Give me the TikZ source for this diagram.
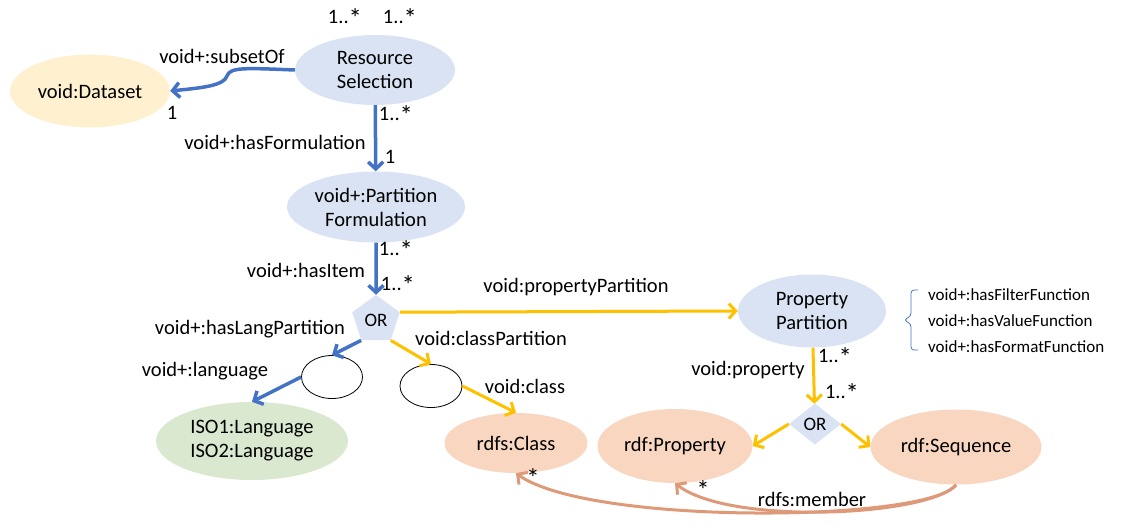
\documentclass[tikz,border=0pt]{standalone}
\usepackage{fontspec}
\setmainfont{Carlito}
\usetikzlibrary{shapes.geometric,arrows.meta}
\definecolor{nodeblue}{HTML}{DAE3F3}
\definecolor{nodeyellow}{HTML}{FFF0CF}
\definecolor{nodegreen}{HTML}{D9E8CE}
\definecolor{nodepeach}{HTML}{F9D6C0}
\definecolor{arrblue}{HTML}{4472C4}
\definecolor{arryellow}{HTML}{FFC000}
\definecolor{arrbrown}{HTML}{DE9A78}
\tikzset{concept/.style={shape=ellipse,inner sep=0pt,align=center,
        font=\fontsize{20.5}{24}\selectfont},
        blank/.style={shape=ellipse,draw,line width=0.8pt,minimum width=61,
        minimum height=43},
        gate/.style={fill=nodeblue,inner sep=0pt,font=\fontsize{19}{21}\selectfont},
        lbl/.style={font=\fontsize{20.5}{24}\selectfont,inner sep=0pt},
        fnlbl/.style={font=\fontsize{17}{20}\selectfont,inner sep=0pt,anchor=west},
        bluearr/.style={draw=arrblue,line width=3.5pt,
        -{Straight Barb[length=7pt,width=15pt]}},
        yelarr/.style={draw=arryellow,line width=3pt,
        -{Straight Barb[length=7pt,width=15pt]}},
        brnarr/.style={draw=arrbrown,line width=3pt,
        -{Straight Barb[length=7pt,width=15pt]}}}
\newcommand{\lbl}[3]{%
  \node[lbl] (#1) at (#2) {#3};}
\newcommand{\mstar}{\raisebox{-0.2em}{\scalebox{1.3}{*}}}

\begin{document}
\begin{tikzpicture}[x=1pt,y=-1pt]
  \useasboundingbox (0,0) rectangle (1121,532);
  %% classes
  \node[concept,fill=nodeyellow,minimum width=160,minimum height=73]
       (dataset) at (90,91) {void:Dataset};
  \node[concept,fill=nodeblue,minimum width=160,minimum height=70]
       (ressel) at (375,70) {Resource\\Selection};
  \node[concept,fill=nodeblue,minimum width=178,minimum height=71]
       (partform) at (376,207) {void+:Partition\\Formulation};
  \node[gate,regular polygon,regular polygon sides=5,minimum size=50]
       (orleft) at (376,320) {OR};
  \node[concept,fill=nodeblue,minimum width=148,minimum height=73]
       (proppart) at (812,311) {Property\\Partition};
  \node[blank] (langnode) at (332,377) {};
  \node[blank,minimum width=62] (classnode) at (431,386) {};
  \node[concept,fill=nodegreen,minimum width=192,minimum height=78]
       (isolang) at (252,441) {ISO1:Language\\ISO2:Language};
  \node[concept,fill=nodepeach,minimum width=143,minimum height=60]
       (rdfsclass) at (516,443) {rdfs:Class};
  \node[concept,fill=nodepeach,minimum width=155,minimum height=74]
       (rdfprop) at (675,446) {rdf:Property};
  \node[concept,fill=nodepeach,minimum width=171,minimum height=75]
       (rdfseq) at (956,447) {rdf:Sequence};
  \node[gate,diamond,minimum width=52,minimum height=41]
       (orright) at (815,424) {OR};
  %% blue links
  \draw[bluearr] (ressel.west) .. controls (245,68) and (230,67) .. (227,76)
       .. controls (224,86) and (200,88) .. (dataset.east);
  \draw[bluearr] (ressel) -- (partform);
  \draw[bluearr] (partform) -- (orleft);
  \draw[bluearr] (orleft.corner 3) -- (langnode.north);
  \draw[bluearr] (langnode.west) -- (isolang.north);
  %% yellow links
  \draw[yelarr] (orleft.corner 5) -- (proppart.west);
  \draw[yelarr] (orleft.corner 4) -- (classnode.north);
  \draw[yelarr] (classnode.east) -- (rdfsclass.north);
  \draw[yelarr] (proppart) -- (orright);
  \draw[yelarr] (orright.west) -- (rdfprop.east);
  \draw[yelarr] (orright.east) -- (rdfseq.west);
  %% rdfs:member
  \draw[brnarr] (rdfseq.south) .. controls (930,522) and (590,526) .. (rdfsclass.south);
  \draw[brnarr] (rdfseq.south) .. controls (930,516) and (730,526) .. (rdfprop.south);
  %% functions
  \draw[arrblue,line width=0.8pt,rounded corners=3pt]
       (918,290) -- (911,290) -- (911,316) -- (904,320) -- (911,324)
       -- (911,350) -- (918,350);
  \node[fnlbl] (filterfn) at (928,295) {void+:hasFilterFunction};
  \node[fnlbl] (valuefn) at (928,321) {void+:hasValueFunction};
  \node[fnlbl] (formatfn) at (928,347) {void+:hasFormatFunction};
  %% labels
  \lbl{mtop}{345,18}{1..\mstar}
  \lbl{mtopb}{400,18}{1..\mstar}
  \lbl{subsetof}{222,56}{void+:subsetOf}
  \lbl{mds}{172,113}{1}
  \lbl{mrs}{396,115}{1..\mstar}
  \lbl{hasform}{275,142}{void+:hasFormulation}
  \lbl{mpf}{390,157}{1}
  \lbl{mpfb}{396,250}{1..\mstar}
  \lbl{hasitem}{306,270}{void+:hasItem}
  \lbl{mor}{398,285}{1..\mstar}
  \lbl{proppartlbl}{576,287}{void:propertyPartition}
  \lbl{langpart}{250,329}{void+:hasLangPartition}
  \lbl{language}{205,371}{void+:language}
  \lbl{classpart}{491,338}{void:classPartition}
  \lbl{classlbl}{525,386}{void:class}
  \lbl{mpp}{835,357}{1..\mstar}
  \lbl{mppb}{842,393}{1..\mstar}
  \lbl{proplbl}{748,370}{void:property}
  \lbl{mcls}{533,478}{\mstar}
  \lbl{mprop}{703,490}{\mstar}
  \lbl{member}{812,499}{rdfs:member}
\end{tikzpicture}
\end{document}
